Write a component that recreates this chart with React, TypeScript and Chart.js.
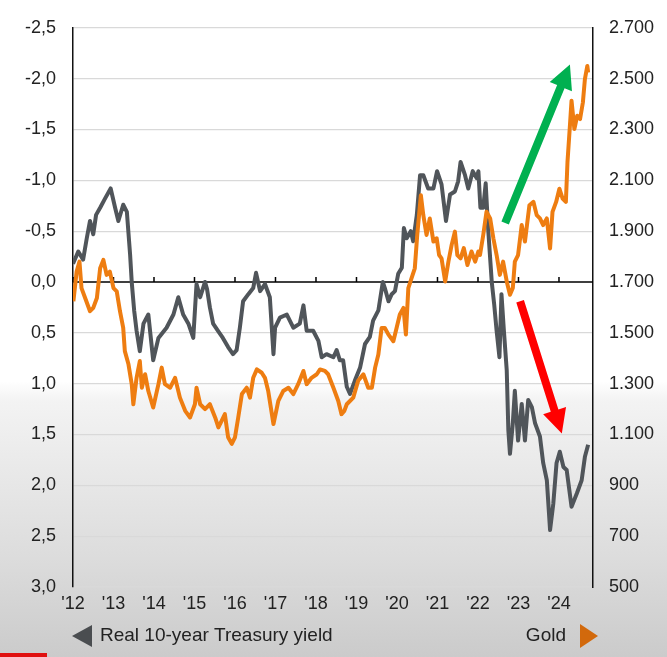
import React, { useEffect, useRef } from 'react';
import { Chart, registerables } from 'chart.js';
Chart.register(...registerables);

// ---- data (decimal years) ----
const yieldDates = [
  2012.00, 2012.13, 2012.25, 2012.34, 2012.42, 2012.50, 2012.57, 2012.67, 2012.79, 2012.93,
  2013.04, 2013.12, 2013.24, 2013.33, 2013.41, 2013.45, 2013.51, 2013.57, 2013.65, 2013.74,
  2013.86, 2013.98, 2014.11, 2014.31, 2014.48, 2014.60, 2014.72, 2014.85, 2014.97, 2015.05,
  2015.14, 2015.26, 2015.31, 2015.38, 2015.46, 2015.58, 2015.70, 2015.83, 2015.95, 2016.04,
  2016.12, 2016.20, 2016.33, 2016.45, 2016.52, 2016.62, 2016.74, 2016.86, 2016.95, 2016.99,
  2017.11, 2017.28, 2017.44, 2017.60, 2017.69, 2017.77, 2017.93, 2018.06, 2018.14, 2018.26,
  2018.43, 2018.51, 2018.59, 2018.67, 2018.76, 2018.84, 2018.96, 2019.09, 2019.21, 2019.33,
  2019.41, 2019.54, 2019.65, 2019.70, 2019.79, 2019.87, 2019.95, 2020.03, 2020.12, 2020.17,
  2020.24, 2020.34, 2020.40, 2020.49, 2020.57, 2020.65, 2020.77, 2020.90, 2020.99, 2021.10,
  2021.21, 2021.31, 2021.43, 2021.51, 2021.57, 2021.68, 2021.76, 2021.87, 2021.97, 2022.01,
  2022.06, 2022.13, 2022.19, 2022.25, 2022.34, 2022.40, 2022.46, 2022.53, 2022.58, 2022.64,
  2022.71, 2022.75, 2022.79, 2022.86, 2022.91, 2022.99, 2023.08, 2023.16, 2023.24, 2023.33,
  2023.41, 2023.53, 2023.61, 2023.70, 2023.78, 2023.86, 2023.94, 2024.02, 2024.11, 2024.19,
  2024.31, 2024.44, 2024.56, 2024.64, 2024.72,
];
const yieldValues = [
  -0.18, -0.30, -0.22, -0.43, -0.60, -0.47, -0.66, -0.73, -0.82, -0.92,
  -0.73, -0.60, -0.76, -0.69, -0.27, 0.00, 0.28, 0.48, 0.68, 0.41,
  0.32, 0.77, 0.55, 0.45, 0.32, 0.15, 0.32, 0.41, 0.55, 0.02,
  0.15, 0.00, 0.07, 0.25, 0.41, 0.48, 0.55, 0.64, 0.71, 0.67,
  0.45, 0.19, 0.12, 0.06, -0.09, 0.09, 0.02, 0.15, 0.71, 0.45,
  0.35, 0.32, 0.45, 0.41, 0.23, 0.48, 0.48, 0.58, 0.74, 0.71,
  0.74, 0.67, 0.77, 0.77, 1.03, 1.10, 0.97, 0.84, 0.61, 0.54,
  0.38, 0.28, 0.00, 0.06, 0.19, 0.12, 0.09, -0.08, -0.14, -0.53,
  -0.43, -0.50, -0.40, -0.66, -1.05, -1.05, -0.92, -0.92, -1.09, -0.96,
  -0.60, -0.86, -0.89, -0.99, -1.18, -1.05, -0.92, -1.09, -1.02, -1.09,
  -0.73, -0.73, -0.97, -0.53, 0.00, 0.22, 0.48, 0.74, 0.12, 0.48,
  0.87, 1.46, 1.69, 1.39, 1.07, 1.56, 1.20, 1.56, 1.16, 1.23,
  1.39, 1.52, 1.78, 1.95, 2.44, 2.18, 1.78, 1.67, 1.82, 1.85,
  2.21, 2.08, 1.95, 1.72, 1.60,
];

const goldDates = [
  2012.01, 2012.09, 2012.16, 2012.21, 2012.30, 2012.42, 2012.50, 2012.59, 2012.67, 2012.75,
  2012.83, 2012.91, 2013.00, 2013.08, 2013.16, 2013.24, 2013.28, 2013.37, 2013.45, 2013.49,
  2013.57, 2013.65, 2013.70, 2013.78, 2013.86, 2013.98, 2014.11, 2014.19, 2014.27, 2014.40,
  2014.52, 2014.64, 2014.77, 2014.89, 2015.01, 2015.05, 2015.14, 2015.26, 2015.38, 2015.51,
  2015.59, 2015.67, 2015.75, 2015.83, 2015.92, 2016.00, 2016.08, 2016.17, 2016.29, 2016.37,
  2016.45, 2016.54, 2016.66, 2016.74, 2016.82, 2016.95, 2017.07, 2017.19, 2017.32, 2017.44,
  2017.56, 2017.69, 2017.77, 2017.89, 2018.02, 2018.10, 2018.22, 2018.30, 2018.43, 2018.55,
  2018.63, 2018.70, 2018.76, 2018.92, 2019.04, 2019.17, 2019.29, 2019.38, 2019.46, 2019.54,
  2019.62, 2019.70, 2019.79, 2019.91, 2019.99, 2020.07, 2020.16, 2020.22, 2020.28, 2020.36,
  2020.44, 2020.50, 2020.59, 2020.65, 2020.73, 2020.81, 2020.90, 2020.98, 2021.04, 2021.10,
  2021.19, 2021.27, 2021.35, 2021.43, 2021.49, 2021.57, 2021.65, 2021.74, 2021.84, 2021.93,
  2022.01, 2022.05, 2022.13, 2022.21, 2022.30, 2022.38, 2022.46, 2022.54, 2022.62, 2022.71,
  2022.79, 2022.86, 2022.91, 2022.99, 2023.08, 2023.16, 2023.27, 2023.37, 2023.45, 2023.53,
  2023.61, 2023.70, 2023.78, 2023.84, 2023.93, 2024.01, 2024.09, 2024.17, 2024.21, 2024.27,
  2024.31, 2024.38, 2024.45, 2024.52, 2024.59, 2024.64, 2024.70, 2024.72,
];
const goldValues = [
  1624, 1741, 1780, 1676, 1637, 1585, 1598, 1637, 1754, 1787,
  1728, 1741, 1676, 1663, 1585, 1519, 1428, 1376, 1298, 1219,
  1323, 1389, 1284, 1337, 1271, 1206, 1298, 1363, 1298, 1284,
  1323, 1245, 1193, 1167, 1219, 1284, 1219, 1200, 1219, 1167,
  1128, 1154, 1180, 1089, 1063, 1089, 1167, 1259, 1284, 1245,
  1323, 1356, 1343, 1323, 1271, 1141, 1232, 1271, 1284, 1259,
  1298, 1350, 1298, 1323, 1337, 1356, 1350, 1337, 1284, 1232,
  1180, 1193, 1219, 1245, 1311, 1337, 1284, 1284, 1363, 1415,
  1519, 1519, 1493, 1467, 1519, 1572, 1598, 1493, 1676, 1715,
  1754, 1885, 2041, 1963, 1885, 1950, 1859, 1872, 1806, 1793,
  1702, 1780, 1846, 1898, 1806, 1793, 1833, 1767, 1820, 1780,
  1820, 1806, 1885, 1976, 1950, 1872, 1806, 1728, 1780, 1702,
  1650, 1676, 1780, 1806, 1924, 1859, 2002, 2015, 1963, 1950,
  1924, 1950, 1832, 1976, 2015, 2067, 2028, 2015, 2172, 2315,
  2413, 2302, 2354, 2341, 2406, 2498, 2550, 2524,
];

const yearTicks = [2012, 2013, 2014, 2015, 2016, 2017, 2018, 2019, 2020, 2021, 2022, 2023, 2024];
const yearLabels = ["'12", "'13", "'14", "'15", "'16", "'17", "'18", "'19", "'20", "'21", "'22", "'23", "'24"];

const legendLeft = 'Real 10-year Treasury yield';
const legendRight = 'Gold';

// annotation arrows in data units (x: year, y: real yield)
const arrowColors = ['#00b050', '#ff0000'];
const arrowTails = [[2022.67, -0.58], [2023.04, 0.19]];
const arrowTips = [[2024.27, -2.14], [2024.07, 1.49]];

const GRAY = '#50555a';
const ORANGE = '#ee7d11';
const FONT = '"Liberation Sans", Arial, sans-serif';

function drawArrow(ctx: CanvasRenderingContext2D, x1: number, y1: number, x2: number, y2: number, color: string) {
  const dx = x2 - x1, dy = y2 - y1;
  const len = Math.hypot(dx, dy);
  const ux = dx / len, uy = dy / len;
  const nx = -uy, ny = ux;
  const shaft = 4, headLen = 24, headHalf = 12;
  const bx = x2 - ux * headLen, by = y2 - uy * headLen;
  ctx.save();
  ctx.fillStyle = color;
  ctx.beginPath();
  ctx.moveTo(x1 + nx * shaft, y1 + ny * shaft);
  ctx.lineTo(bx + nx * shaft, by + ny * shaft);
  ctx.lineTo(bx + nx * headHalf, by + ny * headHalf);
  ctx.lineTo(x2, y2);
  ctx.lineTo(bx - nx * headHalf, by - ny * headHalf);
  ctx.lineTo(bx - nx * shaft, by - ny * shaft);
  ctx.lineTo(x1 - nx * shaft, y1 - ny * shaft);
  ctx.closePath();
  ctx.fill();
  ctx.restore();
}

const overlayPlugin = {
  id: 'overlay',
  beforeDatasetsDraw(chart: any) {
    const { ctx, chartArea, scales } = chart;
    const y0 = scales.y.getPixelForValue(0);
    ctx.save();
    ctx.strokeStyle = '#000';
    ctx.lineWidth = 1.5;
    ctx.beginPath();
    ctx.moveTo(chartArea.left, y0);
    ctx.lineTo(chartArea.right, y0);
    for (const t of yearTicks) {
      const px = scales.x.getPixelForValue(t);
      ctx.moveTo(px, y0);
      ctx.lineTo(px, y0 - 5);
    }
    ctx.stroke();
    ctx.restore();
  },
  afterDatasetsDraw(chart: any) {
    const { ctx, scales } = chart;
    arrowTails.forEach((tail, i) => {
      const tip = arrowTips[i];
      drawArrow(
        ctx,
        scales.x.getPixelForValue(tail[0]), scales.y.getPixelForValue(tail[1]),
        scales.x.getPixelForValue(tip[0]), scales.y.getPixelForValue(tip[1]),
        arrowColors[i]
      );
    });
  },
  afterDraw(chart: any) {
    const { ctx, chartArea } = chart;
    const ly = chartArea.bottom + 49;
    ctx.save();
    ctx.fillStyle = '#4a4d50';
    ctx.beginPath();
    ctx.moveTo(chartArea.left - 1, ly);
    ctx.lineTo(chartArea.left + 19, ly - 11);
    ctx.lineTo(chartArea.left + 19, ly + 11);
    ctx.closePath();
    ctx.fill();
    ctx.fillStyle = '#d2690c';
    ctx.beginPath();
    ctx.moveTo(chartArea.right + 5, ly);
    ctx.lineTo(chartArea.right - 13, ly - 12);
    ctx.lineTo(chartArea.right - 13, ly + 12);
    ctx.closePath();
    ctx.fill();
    ctx.fillStyle = '#222';
    ctx.font = `19px ${FONT}`;
    ctx.textBaseline = 'middle';
    ctx.textAlign = 'left';
    ctx.fillText(legendLeft, chartArea.left + 27, ly);
    ctx.textAlign = 'right';
    ctx.fillText(legendRight, chartArea.right - 27, ly);
    ctx.restore();
  },
};

function fmtThousands(v: number): string {
  if (v >= 1000) {
    const k = Math.floor(v / 1000);
    const r = String(Math.round(v % 1000)).padStart(3, '0');
    return `${k}.${r}`;
  }
  return String(v);
}

export default function App() {
  const ref = useRef<HTMLCanvasElement | null>(null);
  useEffect(() => {
    if (!ref.current) return;
    const chart = new Chart(ref.current, {
      type: 'line',
      data: {
        datasets: [
          {
            label: 'Gold',
            data: goldDates.map((d, i) => ({ x: d, y: goldValues[i] })),
            yAxisID: 'y2',
            borderColor: ORANGE,
            borderWidth: 4,
            borderJoinStyle: 'round',
            pointRadius: 0,
            tension: 0,
          },
          {
            label: 'Real 10-year Treasury yield',
            data: yieldDates.map((d, i) => ({ x: d, y: yieldValues[i] })),
            yAxisID: 'y',
            borderColor: GRAY,
            borderWidth: 4,
            borderJoinStyle: 'round',
            pointRadius: 0,
            tension: 0,
          },
        ],
      },
      options: {
        animation: false,
        responsive: false,
        maintainAspectRatio: false,
        layout: { padding: { top: 25, left: 0, right: 0, bottom: 0 } },
        plugins: { legend: { display: false }, tooltip: { enabled: false } },
        scales: {
          x: {
            type: 'linear',
            min: 2012,
            max: 2024.84,
            afterBuildTicks: (s: any) => {
              s.ticks = yearTicks.map((v) => ({ value: v }));
            },
            afterFit: (s: any) => {
              s.height = 70;
            },
            ticks: {
              autoSkip: false,
              maxRotation: 0,
              padding: 6,
              color: '#222',
              font: { family: FONT, size: 18 },
              callback: (v: any) => {
                const i = yearTicks.indexOf(Number(v));
                return i >= 0 ? yearLabels[i] : '';
              },
            },
            grid: { display: false, drawTicks: false },
            border: { display: false },
          },
          y: {
            type: 'linear',
            position: 'left',
            reverse: true,
            min: -2.5,
            max: 3.0,
            afterFit: (s: any) => {
              s.width = 73;
            },
            ticks: {
              stepSize: 0.5,
              padding: 17,
              color: '#222',
              font: { family: FONT, size: 18 },
              callback: (v: any) => Number(v).toFixed(1).replace('.', ','),
            },
            grid: {
              drawTicks: false,
              lineWidth: 1.2,
              color: (c: any) => (c.tick && Math.abs(c.tick.value) < 1e-9 ? 'rgba(0,0,0,0)' : '#d9d9d9'),
            },
            border: { display: true, color: '#111', width: 1.5 },
          },
          y2: {
            type: 'linear',
            position: 'right',
            min: 500,
            max: 2700,
            afterFit: (s: any) => {
              s.width = 74;
            },
            ticks: {
              stepSize: 200,
              padding: 16,
              color: '#222',
              font: { family: FONT, size: 18 },
              callback: (v: any) => fmtThousands(Number(v)),
            },
            grid: { display: false, drawTicks: false },
            border: { display: true, color: '#111', width: 1.5 },
          },
        },
      },
      plugins: [overlayPlugin],
    });
    return () => chart.destroy();
  }, []);

  return (
    <div
      style={{
        position: 'fixed',
        left: 0,
        top: 0,
        width: 667,
        height: 657,
        background:
          'linear-gradient(to bottom, #ffffff 0%, #ffffff 58%, #f3f3f3 61%, #dcdcdc 85%, #cbcbcb 100%)',
        overflow: 'hidden',
      }}
    >
      <canvas ref={ref} width={667} height={657} style={{ display: 'block' }} />
      <div style={{ position: 'absolute', left: 0, bottom: 0, width: 47, height: 4, background: '#e01010' }} />
    </div>
  );
}
